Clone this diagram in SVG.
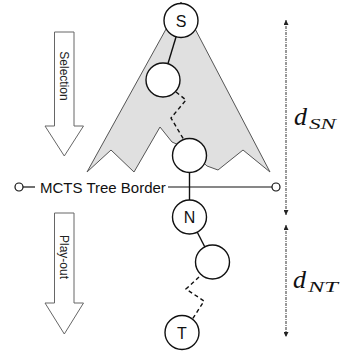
<svg xmlns="http://www.w3.org/2000/svg" width="341" height="351" viewBox="0 0 341 351">
<style>
.node{fill:#fff;stroke:#111;stroke-width:1.4}
.lbl{font-family:"Liberation Sans",Arial,sans-serif;font-size:16px;fill:#111;text-anchor:middle}
.edge{stroke:#111;stroke-width:1.4;fill:none}
.dash{stroke:#111;stroke-width:1.4;fill:none;stroke-dasharray:4 3}
.blk{fill:#fff;stroke:#666;stroke-width:1}
.blkt{font-family:"Liberation Sans",Arial,sans-serif;font-size:12px;fill:#222;text-anchor:middle}
.dim{stroke:#333;stroke-width:1;fill:none;stroke-dasharray:3 1 1 1}
.math{font-family:"Liberation Serif","Times New Roman",serif;font-style:italic;fill:#111}
</style>
<defs>
<marker id="ah" viewBox="0 0 10 10" refX="10" refY="5" markerWidth="5" markerHeight="5" orient="auto-start-reverse" markerUnits="userSpaceOnUse">
<path d="M0,0 L10,5 L0,10 z" fill="#222"/>
</marker>
</defs>
<g id="tree-region">
<polygon points="181,2 87,172 111,150 134,172 160,127 172,142 190,150 207,166 218,170 243,150 270,172" fill="#e0e0e0" stroke="#555" stroke-width="1"/>
</g>
<g id="selection-arrow">
<polygon class="blk" points="54.5,32 74,32 74,126 83.5,126 64.3,156 45,126 54.5,126"/>
<text class="blkt" transform="translate(64.3,76) rotate(90)" y="4.3">Selection</text>
</g>
<g id="playout-arrow">
<polygon class="blk" points="54.5,213 74,213 74,303 83.5,303 64.3,334 45,303 54.5,303"/>
<text class="blkt" transform="translate(64.3,257) rotate(90)" y="4.3">Play-out</text>
</g>
<g id="connectors">
<line class="edge" x1="181" y1="20.5" x2="163" y2="80"/>
<polyline class="dash" points="176,92 186,100 171,118 184,140"/>
<line class="edge" x1="189.5" y1="155.5" x2="189.5" y2="217"/>
<line class="edge" x1="189.5" y1="217" x2="212.5" y2="262"/>
<polyline class="dash" points="199,277 186,289 204,301 192.5,319"/>
</g>
<g id="border">
<circle cx="19" cy="187" r="4" fill="#fff" stroke="#111" stroke-width="1.2"/>
<line x1="23" y1="187" x2="35" y2="187" stroke="#111" stroke-width="1.2"/>
<text x="40" y="192.5" font-family="'Liberation Sans',Arial,sans-serif" font-size="15" fill="#111">MCTS Tree Border</text>
<line x1="168" y1="187" x2="272" y2="187" stroke="#111" stroke-width="1.2"/>
<circle cx="276" cy="187" r="4" fill="#fff" stroke="#111" stroke-width="1.2"/>
</g>
<g id="node-S"><circle class="node" cx="181" cy="20.5" r="17"/><text class="lbl" x="181" y="26.5">S</text></g>
<g id="node-A"><circle class="node" cx="163" cy="80" r="17"/></g>
<g id="node-B"><circle class="node" cx="189.5" cy="155.5" r="17"/></g>
<g id="node-N"><circle class="node" cx="189.5" cy="217" r="17"/><text class="lbl" x="189.5" y="223">N</text></g>
<g id="node-C"><circle class="node" cx="212.5" cy="262" r="17"/></g>
<g id="node-T"><circle class="node" cx="182" cy="332.5" r="17"/><text class="lbl" x="182" y="338.5">T</text></g>
<g id="dimensions">
<line class="dim" x1="286" y1="20" x2="286" y2="215" marker-start="url(#ah)" marker-end="url(#ah)"/>
<line class="dim" x1="286" y1="225" x2="286" y2="337" marker-start="url(#ah)" marker-end="url(#ah)"/>
<text class="math" x="294" y="125" font-size="26">d</text>
<text class="math" x="309" y="129" font-size="15" textLength="27" lengthAdjust="spacingAndGlyphs">SN</text>
<text class="math" x="293" y="288" font-size="26">d</text>
<text class="math" x="308" y="292" font-size="15" textLength="30" lengthAdjust="spacingAndGlyphs">NT</text>
</g>
</svg>
